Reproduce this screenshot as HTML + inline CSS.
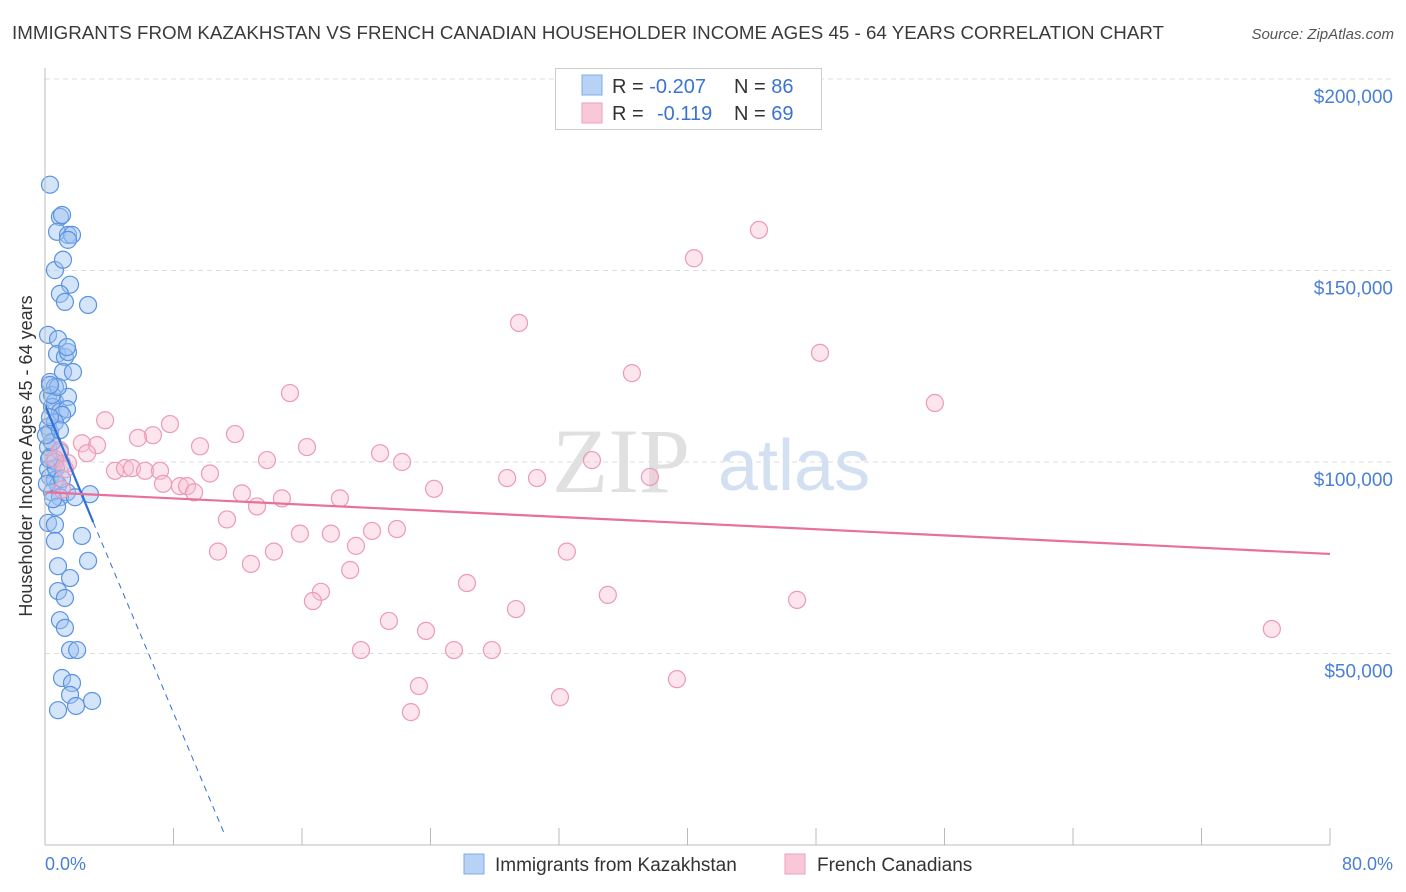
<!DOCTYPE html>
<html><head><meta charset="utf-8"><style>
body{margin:0;background:#fff;font-family:"Liberation Sans",sans-serif;}
#wrap{position:relative;width:1406px;height:892px;overflow:hidden;}
</style></head><body>
<div id="wrap">
<svg id="svg" width="1406" height="892" xmlns="http://www.w3.org/2000/svg">
<text x="12" y="39" font-size="18" fill="#3a3a3a" textLength="1152" lengthAdjust="spacingAndGlyphs">IMMIGRANTS FROM KAZAKHSTAN VS FRENCH CANADIAN HOUSEHOLDER INCOME AGES 45 - 64 YEARS CORRELATION CHART</text>
<text x="1394" y="39" font-size="15" fill="#555" font-style="italic" text-anchor="end">Source: ZipAtlas.com</text>
<g id="grid"></g>
<text x="690" y="492" font-size="92" fill="#e0e0e0" text-anchor="end" font-family="Liberation Serif,serif">ZIP</text>
<text x="718" y="490" font-size="72" fill="#d3e0f2">atlas</text>
<g id="marks"></g>
<line x1="45" y1="68" x2="45" y2="845" stroke="#bbb"/>
<line x1="45" y1="845" x2="1330" y2="845" stroke="#bbb"/>
<text x="32" y="456" font-size="18" fill="#333" text-anchor="middle" transform="rotate(-90 32 456)">Householder Income Ages 45 - 64 years</text>
<text x="45" y="870" font-size="18" fill="#4a7fd4">0.0%</text>
<text x="1393" y="870" font-size="18" fill="#4a7fd4" text-anchor="end">80.0%</text>
<g>
<rect x="555.5" y="68.5" width="266" height="61" fill="#fff" stroke="#ccc"/>
<rect x="582" y="75" width="20" height="20" fill="#b7d2f5" stroke="#7fa9e6"/>
<rect x="582" y="103" width="20" height="20" fill="#f9c8d8" stroke="#ee9fb9"/>
<text x="612" y="93" font-size="20" fill="#333">R = <tspan fill="#3b73d1">-0.207</tspan></text>
<text x="734" y="93" font-size="20" fill="#333">N = <tspan fill="#3b73d1">86</tspan></text>
<text x="612" y="120" font-size="20" fill="#333">R = </text>
<text x="657" y="120" font-size="20" fill="#3b73d1">-0.119</text>
<text x="734" y="120" font-size="20" fill="#333">N = <tspan fill="#3b73d1">69</tspan></text>
</g>
<g>
<rect x="464" y="854" width="20" height="20" fill="#b7d2f5" stroke="#7fa9e6"/>
<text x="495" y="871" font-size="19" fill="#333">Immigrants from Kazakhstan</text>
<rect x="785" y="854" width="20" height="20" fill="#f9c8d8" stroke="#ee9fb9"/>
<text x="817" y="871" font-size="19" fill="#333">French Canadians</text>
</g>
</svg>
</div>
<script>
const yTicks=[50000,100000,150000,200000];
const yTickLabels=["$50,000","$100,000","$150,000","$200,000"];
const xTicks=[0,8,16,24,32,40,48,56,64,72,80];
const blueX=[0.31,0.93,1.06,0.75,1.43,1.68,1.43,0.62,1.12,1.56,0.93,1.24,2.68,0.19,0.81,0.75,1.24,1.43,1.37,1.12,1.74,0.31,0.62,0.19,0.62,1.43,0.44,0.93,1.37,1.06,0.19,0.31,0.44,0.19,0.93,0.31,0.62,1.06,0.19,0.31,0.62,0.81,1.37,0.44,0.93,1.87,2.80,0.75,0.19,0.62,2.30,0.62,2.68,0.81,1.56,0.81,1.24,0.93,1.24,1.56,2.0,1.06,1.68,1.56,0.81,1.93,2.93,0.44,0.62,0.31,0.68,0.50,0.12,1.06,0.25,0.44,0.81,0.31,0.06,0.93];
const blueY=[172.4,164.0,164.5,160.1,159.3,159.3,158.0,150.1,152.8,146.3,143.9,141.8,141.0,133.2,132.1,128.2,127.4,128.7,130.0,123.5,123.5,120.9,119.6,117.0,115.7,117.0,114.4,113.1,113.8,112.3,109.2,107.8,105.2,103.9,102.6,101.3,100.0,99.5,98.1,96.1,95.3,94.0,92.1,92.1,90.8,90.8,91.6,88.3,84.1,83.6,80.7,79.4,74.2,72.8,69.7,66.3,64.5,58.7,56.7,50.9,50.9,43.6,42.3,39.2,35.2,36.3,37.6,105.2,110.4,111.7,98.4,90.3,94.3,95.6,100.8,117.5,119.6,120.1,107.0,108.3];
const blueLine={x0:0,y0:114.9,x1:3.0,y1:84.3,xd:11.2,yd:2.6};
const pinkX=[3.74,7.78,6.72,5.79,2.30,3.24,11.83,9.65,16.31,15.25,2.62,0.93,1.43,4.36,4.98,5.42,6.23,7.16,7.35,8.40,8.84,9.28,10.27,12.26,13.20,13.82,14.75,18.36,20.86,22.23,24.22,28.77,30.63,34.05,37.66,11.33,10.77,12.82,14.25,15.87,17.80,19.36,20.36,21.91,19.00,17.18,16.68,26.27,29.32,32.49,35.04,46.82,21.41,23.72,19.67,25.46,27.82,23.28,22.78,32.06,39.34,76.38,29.51,36.54,40.40,44.45,48.25,55.40,0.62,1.24,1.06];
const pinkY=[110.9,109.9,107.0,106.3,104.9,104.4,107.3,104.1,103.9,118.0,102.3,103.1,99.7,97.7,98.4,98.4,97.7,97.7,94.3,93.7,93.7,92.1,97.0,91.8,88.4,100.5,90.5,90.5,102.3,100.0,93.0,95.8,95.8,100.5,96.1,85.0,76.6,73.4,76.6,81.3,81.3,78.1,82.0,82.5,71.8,66.1,63.7,68.4,61.6,76.6,65.3,64.0,58.5,55.9,50.9,50.9,50.9,41.5,34.7,38.6,43.3,56.4,136.3,123.2,153.2,160.6,128.5,115.4,100.8,98.1,92.8];
const pinkLine={x0:0,y0:92.1,x1:80,y1:76.0};
const NS="http://www.w3.org/2000/svg";
const X=v=>45+v/80*1285;
const Y=v=>845-v/50000*191.5;
const Yk=v=>Y(v*1000);
function mk(tag,attrs,parent){const e=document.createElementNS(NS,tag);for(const k in attrs)e.setAttribute(k,attrs[k]);parent.appendChild(e);return e;}
const grid=document.getElementById('grid'),marks=document.getElementById('marks');
yTicks.forEach((t,i)=>{
  const l=mk('line',{x1:45,x2:1395,y1:Y(t),y2:Y(t),stroke:'#ddd','stroke-dasharray':'5,4'},grid);
  
  
  const tx=mk('text',{x:1393,y:Y(t)+24,'font-size':19,fill:'#4a7fd4','text-anchor':'end'},grid);
  tx.textContent=yTickLabels[i];
  
  
});
xTicks.forEach(t=>{
  const l=mk('line',{x1:X(t),x2:X(t),y1:828,y2:845,stroke:'#bbb'},grid);
  
  
});
blueX.forEach((x,i)=>{
  const c=mk('circle',{cx:X(x),cy:Yk(blueY[i]),r:8.5,fill:'rgba(160,196,242,0.45)',stroke:'#5b93e0','stroke-width':1.2},marks);
  
  
});
pinkX.forEach((x,i)=>{
  const c=mk('circle',{cx:X(x),cy:Yk(pinkY[i]),r:8.5,fill:'rgba(248,190,210,0.4)',stroke:'#ec9ab6','stroke-width':1.2},marks);
  
  
});
let l1=mk('line',{x1:X(blueLine.x0),y1:Yk(blueLine.y0),x2:X(blueLine.x1),y2:Yk(blueLine.y1),stroke:'#2f6fd6','stroke-width':2.2},marks);


let l2=mk('line',{x1:X(blueLine.x1),y1:Yk(blueLine.y1),x2:X(blueLine.xd),y2:Yk(blueLine.yd),stroke:'#2f6fd6','stroke-width':1,'stroke-dasharray':'6,5'},marks);


let l3=mk('line',{x1:X(pinkLine.x0),y1:Yk(pinkLine.y0),x2:X(pinkLine.x1),y2:Yk(pinkLine.y1),stroke:'#e8709a','stroke-width':2.2},marks);


</script>
</body></html>
